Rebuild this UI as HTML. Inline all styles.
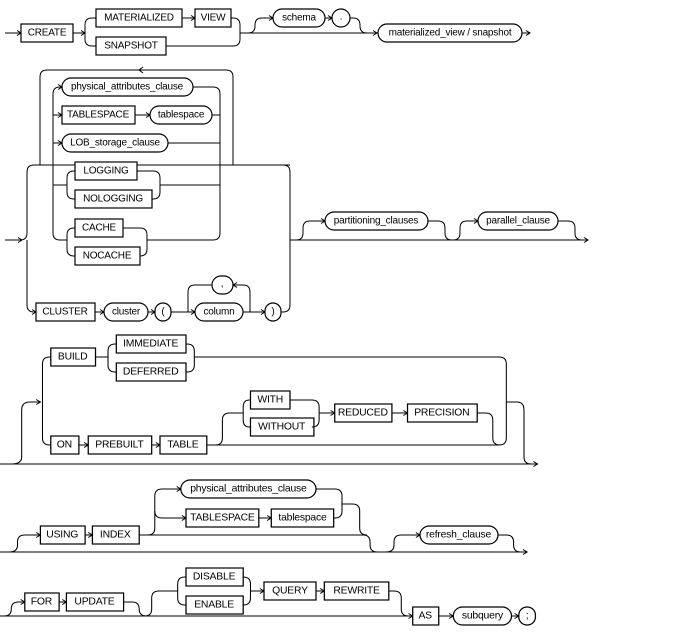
<!DOCTYPE html>
<html><head><meta charset="utf-8"><style>
html,body{margin:0;padding:0;background:#fff;}
svg{display:block}
text{font-family:"Liberation Sans",sans-serif;font-size:10px;text-anchor:middle;dominant-baseline:central;letter-spacing:-0.2px;fill:#000}
path,line{fill:none;stroke:#000;stroke-width:1}
rect{fill:#fff;stroke:#000;stroke-width:1.2}
</style></head><body>
<svg width="688" height="633" viewBox="0 0 688 633" xmlns="http://www.w3.org/2000/svg">
<defs><marker id="a" markerWidth="7" markerHeight="7" refX="5" refY="3" orient="auto" markerUnits="userSpaceOnUse"><path d="M1,0.5 L5,3 L1,5.5"/></marker></defs>

<!-- ROW 1 -->
<path d="M5,33 H21" marker-end="url(#a)"/>
<rect x="21" y="24" width="52" height="18"/><text x="47" y="33">CREATE</text>
<path d="M73,33 H85" marker-end="url(#a)"/>
<path d="M96,18 H92 Q85,18 85,25 V39 Q85,46 92,46 H96"/>
<rect x="96" y="9" width="86" height="18"/><text x="139" y="18">MATERIALIZED</text>
<path d="M182,18 H195" marker-end="url(#a)"/>
<rect x="195" y="9" width="36" height="18"/><text x="213" y="18">VIEW</text>
<rect x="96" y="37" width="70" height="18"/><text x="131" y="46">SNAPSHOT</text>
<path d="M231,18 H233 Q240,18 240,25 V39 Q240,46 233,46 H166"/>
<path d="M240,33 H377" marker-end="url(#a)"/>
<path d="M248,33 Q255,33 255,26 V25 Q255,18 262,18 H273" marker-end="url(#a)"/>
<rect x="273" y="9" width="52" height="18" rx="9"/><text x="299" y="18">schema</text>
<path d="M325,18 H332" marker-end="url(#a)"/>
<rect x="332" y="9" width="18" height="18" rx="9"/><text x="341" y="17">.</text>
<path d="M350,18 H353 Q360,18 360,25 V26 Q360,33 367,33"/>
<rect x="378" y="24" width="144" height="18" rx="9"/><text x="450" y="33">materialized_view / snapshot</text>
<path d="M522,33 H530" marker-end="url(#a)"/>

<!-- ROW 2 -->
<path d="M5,240 H22" marker-end="url(#a)"/>
<path d="M20,240 Q27,240 27,233 V172 Q27,165 34,165 H290"/>
<path d="M27,240 V305 Q27,312 34,312 H36" marker-end="url(#a)"/>
<path d="M40,165 V77 Q40,70 47,70 H226 Q233,70 233,77 V165"/>
<path d="M143,67 L139,70 L143,73"/>
<path d="M283,165 Q290,165 290,172 V305 Q290,312 283,312 H281"/>
<path d="M290,240 H588" marker-end="url(#a)"/>
<path d="M53,165 V94 Q53,87 60,87 H62" marker-end="url(#a)"/>
<path d="M53,165 V233 Q53,240 60,240 H67"/>
<path d="M53,115 H62" marker-end="url(#a)"/>
<path d="M53,143 H62" marker-end="url(#a)"/>
<path d="M53,185 H67"/>
<path d="M193,87 H213 Q220,87 220,94 V233 Q220,240 213,240 H147"/>
<rect x="62" y="78" width="131" height="18" rx="9"/><text x="127" y="87">physical_attributes_clause</text>
<rect x="62" y="106" width="73" height="18"/><text x="98" y="115">TABLESPACE</text>
<path d="M135,115 H150" marker-end="url(#a)"/>
<rect x="150" y="106" width="62" height="18" rx="9"/><text x="181" y="115">tablespace</text>
<path d="M212,115 H220"/>
<rect x="62" y="134" width="106" height="18" rx="9"/><text x="115" y="143">LOB_storage_clause</text>
<path d="M168,143 H220"/>
<path d="M75,171 H74 Q67,171 67,178 V192 Q67,199 74,199 H75"/>
<rect x="75" y="162" width="62" height="18"/><text x="106" y="171">LOGGING</text>
<rect x="75" y="190" width="77" height="18"/><text x="113" y="199">NOLOGGING</text>
<path d="M137,171 H153 Q160,171 160,178 V192 Q160,199 153,199 H152"/>
<path d="M160,185 H220"/>
<path d="M75,228 H74 Q67,228 67,235 V249 Q67,256 74,256 H75"/>
<rect x="75" y="219" width="48" height="18"/><text x="99" y="228">CACHE</text>
<rect x="75" y="247" width="65" height="18"/><text x="107" y="256">NOCACHE</text>
<path d="M123,228 H140 Q147,228 147,235 V249 Q147,256 140,256"/>
<rect x="36" y="303" width="59" height="18"/><text x="65" y="312">CLUSTER</text>
<path d="M95,312 H104" marker-end="url(#a)"/>
<rect x="104" y="303" width="44" height="18" rx="9"/><text x="126" y="312">cluster</text>
<path d="M148,312 H155" marker-end="url(#a)"/>
<rect x="155" y="303" width="16" height="18" rx="8"/><text x="163" y="312">(</text>
<path d="M171,312 H195" marker-end="url(#a)"/>
<rect x="195" y="303" width="48" height="18" rx="9"/><text x="219" y="312">column</text>
<path d="M243,312 H265" marker-end="url(#a)"/>
<rect x="265" y="303" width="16" height="18" rx="8"/><text x="273" y="312">)</text>
<path d="M250,312 V292 Q250,285 243,285 H233" marker-end="url(#a)"/>
<rect x="212" y="276" width="21" height="18" rx="9"/><text x="222" y="284">,</text>
<path d="M212,285 H195 Q188,285 188,292 V312"/>
<path d="M296,240 Q303,240 303,233 V228 Q303,221 310,221 H325" marker-end="url(#a)"/>
<rect x="325" y="212" width="103" height="18" rx="9"/><text x="376" y="221">partitioning_clauses</text>
<path d="M428,221 H438 Q445,221 445,228 V233 Q445,240 452,240"/>
<path d="M453,240 Q460,240 460,233 V228 Q460,221 467,221 H478" marker-end="url(#a)"/>
<rect x="478" y="212" width="80" height="18" rx="9"/><text x="518" y="221">parallel_clause</text>
<path d="M558,221 H568 Q575,221 575,228 V233 Q575,240 582,240"/>

<!-- ROW 3 -->
<g transform="matrix(1.04,0,0,1,-1.2,0)">
<path d="M0,464 H518" marker-end="url(#a)"/>
<path d="M12,464 Q22,464 22,457 V410 Q22,402 30,402 H40" marker-end="url(#a)"/>
<path d="M50,357 H49 Q42,357 42,364 V438 Q42,445 49,445 H50"/>
<rect x="50" y="348" width="43" height="18"/><text x="71" y="357">BUILD</text>
<path d="M93,357 H105"/>
<path d="M113,344 H112 Q105,344 105,351 V365 Q105,372 112,372 H113"/>
<rect x="113" y="335" width="67" height="18"/><text x="146" y="344">IMMEDIATE</text>
<rect x="113" y="363" width="67" height="18"/><text x="146" y="372">DEFERRED</text>
<path d="M180,344 H181 Q188,344 188,351 V365 Q188,372 181,372 H180"/>
<path d="M188,357 H481 Q488,357 488,364 V438 Q488,445 481,445 H200"/>
<rect x="50" y="436" width="27" height="18"/><text x="63" y="445">ON</text>
<path d="M77,445 H86" marker-end="url(#a)"/>
<rect x="86" y="436" width="61" height="18"/><text x="116" y="445">PREBUILT</text>
<path d="M147,445 H155" marker-end="url(#a)"/>
<rect x="155" y="436" width="45" height="18"/><text x="177" y="445">TABLE</text>
<path d="M208,445 Q215,445 215,438 V420 Q215,413 222,413 H235"/>
<path d="M242,400 H241 Q235,400 235,407 V420 Q235,427 241,427 H242"/>
<rect x="242" y="391" width="38" height="18"/><text x="261" y="400">WITH</text>
<rect x="242" y="418" width="61" height="18"/><text x="272" y="427">WITHOUT</text>
<path d="M280,400 H301 Q308,400 308,407 V420 Q308,427 301,427 H303"/>
<path d="M308,413 H323" marker-end="url(#a)"/>
<rect x="323" y="404" width="55" height="18"/><text x="350" y="413">REDUCED</text>
<path d="M378,413 H393" marker-end="url(#a)"/>
<rect x="393" y="404" width="67" height="18"/><text x="426" y="413">PRECISION</text>
<path d="M460,413 H468 Q475,413 475,420 V438 Q475,445 482,445"/>
<path d="M488,402 H498 Q505,402 505,410 V457 Q505,464 512,464"/>
</g>

<!-- ROW 4 -->
<g transform="matrix(1.04,0,0,1,-1.2,1)">
<path d="M0,551 H508" marker-end="url(#a)"/>
<path d="M10,551 Q18,551 18,544 V541 Q18,534 25,534 H40" marker-end="url(#a)"/>
<rect x="40" y="525" width="43" height="18"/><text x="61" y="534">USING</text>
<path d="M83,534 H90" marker-end="url(#a)"/>
<rect x="90" y="525" width="45" height="18"/><text x="112" y="534">INDEX</text>
<path d="M135,534 H350 Q357,534 357,541 V544 Q357,551 364,551"/>
<path d="M143,534 Q150,534 150,527 V495 Q150,488 157,488 H175" marker-end="url(#a)"/>
<path d="M150,510 Q150,517 157,517 H180" marker-end="url(#a)"/>
<rect x="175" y="479" width="130" height="18" rx="9"/><text x="240" y="488">physical_attributes_clause</text>
<rect x="180" y="508" width="70" height="18"/><text x="215" y="517">TABLESPACE</text>
<path d="M250,517 H262" marker-end="url(#a)"/>
<rect x="262" y="508" width="60" height="18"/><text x="292" y="517">tablespace</text>
<path d="M305,488 H323 Q330,488 330,495 V510 Q330,517 323,517 H322"/>
<path d="M330,503 H340 Q347,503 347,510 V527 Q347,534 354,534"/>
<path d="M372,551 Q380,551 380,544 V541 Q380,534 387,534 H405" marker-end="url(#a)"/>
<rect x="405" y="525" width="75" height="18" rx="9"/><text x="442" y="534">refresh_clause</text>
<path d="M480,534 H488 Q495,534 495,541 V544 Q495,551 502,551"/>
</g>

<!-- ROW 5 -->
<g transform="matrix(1.04,0,0,1,-1.2,4)">
<path d="M0,612 H398" marker-end="url(#a)"/>
<path d="M5,612 Q12,612 12,605 Q12,598 19,598 H25" marker-end="url(#a)"/>
<rect x="25" y="589" width="33" height="18"/><text x="41" y="598">FOR</text>
<path d="M58,598 H65" marker-end="url(#a)"/>
<rect x="65" y="589" width="55" height="18"/><text x="92" y="598">UPDATE</text>
<path d="M120,598 H128 Q135,598 135,605 Q135,612 142,612"/>
<path d="M140,612 Q147,612 147,605 V594 Q147,587 154,587 H172"/>
<path d="M180,573 H179 Q172,573 172,580 V594 Q172,601 179,601 H180"/>
<rect x="180" y="564" width="55" height="18"/><text x="207" y="573">DISABLE</text>
<rect x="180" y="592" width="55" height="18"/><text x="207" y="601">ENABLE</text>
<path d="M235,573 Q242,573 242,580 V594 Q242,601 235,601"/>
<path d="M242,587 H255" marker-end="url(#a)"/>
<rect x="255" y="578" width="50" height="18"/><text x="280" y="587">QUERY</text>
<path d="M305,587 H313" marker-end="url(#a)"/>
<rect x="313" y="578" width="62" height="18"/><text x="344" y="587">REWRITE</text>
<path d="M375,587 H380 Q387,587 387,594 V605 Q387,612 394,612"/>
<rect x="398" y="603" width="25" height="18"/><text x="410" y="612">AS</text>
<path d="M423,612 H437" marker-end="url(#a)"/>
<rect x="437" y="603" width="56" height="18" rx="9"/><text x="465" y="612">subquery</text>
<path d="M493,612 H500" marker-end="url(#a)"/>
<rect x="500" y="603" width="16" height="18" rx="8"/><text x="508" y="612">;</text>
</g>
</svg>
</body></html>
